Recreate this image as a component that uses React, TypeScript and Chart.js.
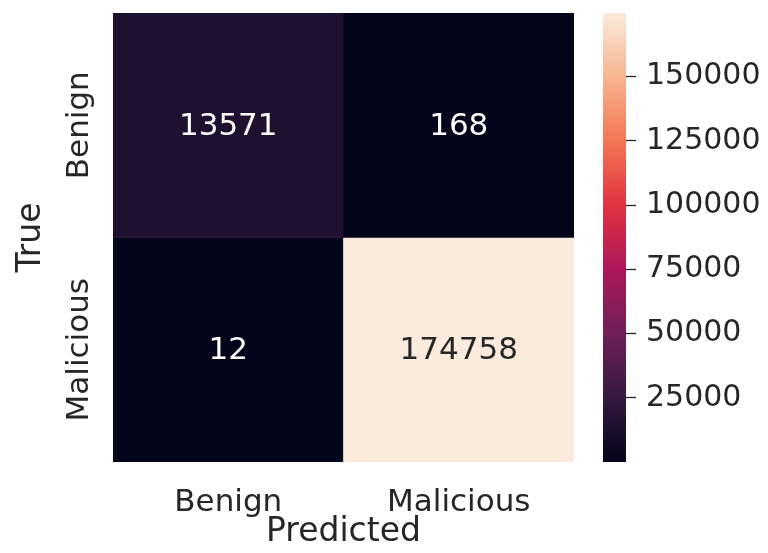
import React, { useEffect, useRef } from "react";
import { Chart, registerables } from "chart.js";

Chart.register(...registerables);

const PREDICTED_LABELS = ["Benign", "Malicious"];
const TRUE_LABELS = ["Benign", "Malicious"];
const ROW_BENIGN = [13571, 168];
const ROW_MALICIOUS = [12, 174758];
const COLORBAR_TICKS = [25000, 50000, 75000, 100000, 125000, 150000];
const X_TITLE = "Predicted";
const Y_TITLE = "True";

const ROCKET_STOPS: [number, string][] = [
  [0, "#03051a"],
  [1 / 7, "#35193e"],
  [2 / 7, "#701f57"],
  [3 / 7, "#ad1759"],
  [4 / 7, "#e13342"],
  [5 / 7, "#f37651"],
  [6 / 7, "#f6b48f"],
  [1, "#faebdd"],
];

const ROWS = [ROW_BENIGN, ROW_MALICIOUS];
const ALL = ROWS.flat();
const VMIN = Math.min(...ALL);
const VMAX = Math.max(...ALL);

const FONT = "DejaVu Sans";
const TEXT = "#262626";

function hexToRgb(h: string): number[] {
  const n = parseInt(h.slice(1), 16);
  return [(n >> 16) & 255, (n >> 8) & 255, n & 255];
}

function rocket(t: number): string {
  t = Math.max(0, Math.min(1, t));
  for (let i = 0; i < ROCKET_STOPS.length - 1; i++) {
    const [p0, c0] = ROCKET_STOPS[i];
    const [p1, c1] = ROCKET_STOPS[i + 1];
    if (t <= p1) {
      const f = (t - p0) / (p1 - p0);
      const a = hexToRgb(c0);
      const b = hexToRgb(c1);
      const c = a.map((v, k) => Math.round(v + (b[k] - v) * f));
      return `rgb(${c[0]},${c[1]},${c[2]})`;
    }
  }
  return ROCKET_STOPS[ROCKET_STOPS.length - 1][1];
}

function norm(v: number) {
  return (v - VMIN) / (VMAX - VMIN);
}

const annotatePlugin = {
  id: "heatAnnot",
  afterDatasetsDraw(chart: any) {
    const { ctx, scales, chartArea } = chart;
    const x = scales.x;
    const y = scales.y;
    ctx.save();
    ROWS.forEach((row, i) => {
      row.forEach((v, j) => {
        const cx = x.getPixelForValue(j);
        const cy = (y.getPixelForValue(i) + y.getPixelForValue(i + 1)) / 2;
        ctx.font = `31px "${FONT}"`;
        ctx.textAlign = "center";
        ctx.textBaseline = "alphabetic";
        ctx.fillStyle = norm(v) > 0.5 ? TEXT : "#ffffff";
        ctx.fillText(String(v), cx, cy + 9.5);
      });
    });
    TRUE_LABELS.forEach((lab, i) => {
      const cy = (y.getPixelForValue(i) + y.getPixelForValue(i + 1)) / 2;
      ctx.save();
      ctx.translate(chartArea.left - 25, cy);
      ctx.rotate(-Math.PI / 2);
      ctx.font = `31px "${FONT}"`;
      ctx.textAlign = "center";
      ctx.textBaseline = "alphabetic";
      ctx.fillStyle = TEXT;
      ctx.fillText(lab, 0, 0);
      ctx.restore();
    });
    ctx.restore();
  },
};

export default function App() {
  const mainRef = useRef<HTMLCanvasElement>(null);
  const cbRef = useRef<HTMLCanvasElement>(null);

  useEffect(() => {
    Chart.defaults.font.family = FONT;
    const main = new Chart(mainRef.current!, {
      type: "bar",
      data: {
        labels: PREDICTED_LABELS,
        datasets: ROWS.map((row, i) => ({
          label: TRUE_LABELS[i],
          data: row.map(() => [i, i + 1]),
          backgroundColor: row.map((v) => rocket(norm(v))),
          borderWidth: 0,
          grouped: false,
          categoryPercentage: 1,
          barPercentage: 1,
        })) as any,
      },
      options: {
        responsive: false,
        animation: false,
        layout: { padding: { left: 0, top: 13, right: 194, bottom: 0 } },
        plugins: { legend: { display: false }, tooltip: { enabled: false } },
        scales: {
          x: {
            type: "category",
            offset: true,
            grid: { display: false },
            border: { display: false },
            ticks: {
              font: { family: FONT, size: 31 },
              color: TEXT,
              padding: 14,
              maxRotation: 0,
              autoSkip: false,
            },
            title: {
              display: true,
              text: X_TITLE,
              font: { family: FONT, size: 33 },
              color: TEXT,
              padding: { top: 0, bottom: 1 },
            },
            afterFit: (s: any) => {
              s.height = 91;
              s.paddingLeft = 0;
              s.paddingRight = 0;
            },
          },
          y: {
            type: "linear",
            min: 0,
            max: 2,
            reverse: true,
            grid: { display: false },
            border: { display: false },
            ticks: { display: false },
            title: {
              display: true,
              text: Y_TITLE,
              font: { family: FONT, size: 33 },
              color: TEXT,
              padding: { top: 12, bottom: 0 },
            },
            afterFit: (s: any) => {
              s.width = 113;
              s.paddingTop = 0;
              s.paddingBottom = 0;
            },
          },
        },
      } as any,
      plugins: [annotatePlugin],
    });

    const cb = new Chart(cbRef.current!, {
      type: "bar",
      data: {
        labels: [""],
        datasets: [
          {
            data: [[VMIN, VMAX]] as any,
            backgroundColor: (c: any) => {
              const area = c.chart.chartArea;
              if (!area) return ROCKET_STOPS[0][1];
              const g = c.chart.ctx.createLinearGradient(0, area.bottom, 0, area.top);
              ROCKET_STOPS.forEach(([p, col]) => g.addColorStop(p, col));
              return g;
            },
            borderWidth: 0,
            categoryPercentage: 1,
            barPercentage: 1,
          },
        ],
      },
      options: {
        responsive: false,
        animation: false,
        layout: { padding: { left: 603, top: 13, right: 0, bottom: 91 } },
        plugins: { legend: { display: false }, tooltip: { enabled: false } },
        scales: {
          x: { display: false },
          y: {
            position: "right",
            min: VMIN,
            max: VMAX,
            afterBuildTicks: (s: any) => {
              s.ticks = COLORBAR_TICKS.map((v) => ({ value: v }));
            },
            ticks: {
              font: { family: FONT, size: 30 },
              color: TEXT,
              padding: 10,
              callback: (v: any) => String(v),
            },
            grid: {
              display: true,
              drawOnChartArea: false,
              drawTicks: true,
              tickLength: 10,
              tickColor: TEXT,
              tickWidth: 1.3,
            },
            border: { display: false },
            afterFit: (s: any) => {
              s.width = 142;
              s.paddingTop = 0;
              s.paddingBottom = 0;
            },
          },
        },
      } as any,
    });

    return () => {
      main.destroy();
      cb.destroy();
    };
  }, []);

  return (
    <div style={{ position: "absolute", left: 0, top: 0, width: 768, height: 553, background: "#ffffff" }}>
      <canvas ref={mainRef} width={768} height={553} style={{ position: "absolute", left: 0, top: 0 }} />
      <canvas ref={cbRef} width={768} height={553} style={{ position: "absolute", left: 0, top: 0 }} />
    </div>
  );
}
